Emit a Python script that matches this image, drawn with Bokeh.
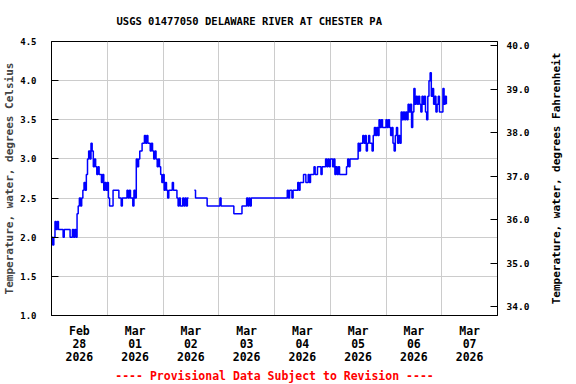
import math
import numpy as np
import pandas as pd
from bokeh.plotting import figure
from bokeh.layouts import row
from bokeh.models import Range1d, LinearAxis, FixedTicker, Label, Title, PrintfTickFormatter
from bokeh.embed import file_html
from bokeh.resources import INLINE

title_text = "USGS 01477050 DELAWARE RIVER AT CHESTER PA"
footer_text = "---- Provisional Data Subject to Revision ----"
left_label = "Temperature, water, degrees Celsius"
right_label = "Temperature, water, degrees Fahrenheit"

start_time = "2026-02-28 00:00"
sample_interval = "30min"
nan = float("nan")

# water temperature, degrees C, every 30 minutes from Feb 28 00:00
temp_c = [
    2.0, 1.9, 2.0, 2.2, 2.1, 2.2, 2.1, 2.1, 2.1, 2.1,
    2.0, 2.1, 2.1, 2.1, 2.1, 2.1, 2.0, 2.0, 2.1, 2.0,
    2.1, 2.0, 2.3, 2.4, 2.5, 2.4, 2.5, 2.6, 2.7, 2.6,
    2.8, 3.0, 3.1, 3.0, 3.2, 3.1, 2.9, 3.0, 2.9, 2.8,
    2.9, 2.8, 2.8, 2.7, 2.8, 2.6, 2.7, 2.6, 2.7, 2.5,
    2.4, 2.4, 2.4, 2.6, 2.6, 2.6, 2.6, 2.6, 2.5, 2.5,
    2.4, 2.5, 2.5, 2.5, 2.5, 2.6, 2.5, 2.6, 2.5, 2.5,
    2.4, 2.6, 2.5, 3.0, 2.9, 3.0, 3.1, 3.1, 3.2, 3.2,
    3.3, 3.2, 3.3, 3.2, 3.2, 3.1, 3.2, 3.1, 3.0, 3.1,
    3.0, 2.9, 3.0, 2.9, 2.8, 2.7, 2.8, 2.6, 2.7, 2.6,
    2.5, 2.6, 2.6, 2.6, 2.7, 2.6, 2.6, 2.6, 2.5, 2.4,
    2.5, 2.4, 2.4, 2.5, 2.4, 2.5, 2.4, 2.5, 2.5, nan,
    nan, nan, nan, 2.6, 2.5, 2.5, 2.5, 2.5, 2.5, 2.5,
    2.5, 2.5, 2.5, 2.5, 2.4, 2.4, 2.4, 2.4, 2.4, 2.4,
    2.4, 2.4, 2.4, 2.4, 2.4, 2.5, 2.4, 2.4, 2.4, 2.4,
    2.4, 2.4, 2.4, 2.4, 2.4, 2.4, 2.4, 2.3, 2.3, 2.3,
    2.3, 2.3, 2.3, 2.3, 2.4, 2.4, 2.4, 2.4, 2.5, 2.4,
    2.5, 2.4, 2.5, 2.5, 2.5, 2.5, 2.5, 2.5, 2.5, 2.5,
    2.5, 2.5, 2.5, 2.5, 2.5, 2.5, 2.5, 2.5, 2.5, 2.5,
    2.5, 2.5, 2.5, 2.5, 2.5, 2.5, 2.5, 2.5, 2.5, 2.5,
    2.5, 2.5, 2.5, 2.6, 2.5, 2.6, 2.6, 2.5, 2.6, 2.6,
    2.6, 2.6, 2.7, 2.6, 2.7, 2.7, 2.7, 2.8, 2.8, 2.7,
    2.7, 2.8, 2.7, 2.8, 2.8, 2.8, 2.9, 2.8, 2.8, 2.9,
    2.9, 2.9, 2.8, 2.9, 2.9, 2.9, 3.0, 2.9, 3.0, 2.9,
    3.0, 3.0, 2.9, 3.0, 2.8, 2.9, 2.8, 2.9, 2.8, 2.8,
    2.8, 2.8, 2.8, 2.8, 2.9, 3.0, 2.9, 3.0, 3.0, 3.0,
    3.0, 3.0, 3.0, 3.0, 3.2, 3.1, 3.2, 3.2, 3.3, 3.2,
    3.3, 3.1, 3.2, 3.3, 3.2, 3.2, 3.1, 3.3, 3.4, 3.3,
    3.4, 3.3, 3.5, 3.4, 3.5, 3.4, 3.4, 3.4, 3.5, 3.4,
    3.5, 3.4, 3.3, 3.4, 3.2, 3.1, 3.3, 3.4, 3.2, 3.3,
    3.2, 3.6, 3.5, 3.6, 3.5, 3.6, 3.5, 3.7, 3.6, 3.7,
    3.4, 3.6, 3.9, 3.7, 3.8, 3.7, 3.8, 3.7, 3.6, 3.8,
    3.7, 3.8, 3.6, 3.5, 3.8, 4.0, 4.1, 3.8, 3.9, 3.7,
    3.8, 3.6, 3.7, 3.8, 3.6, 3.6, 3.6, 3.9, 3.7, 3.8,
    3.7,
]

c_ticks = [1.0, 1.5, 2.0, 2.5, 3.0, 3.5, 4.0, 4.5]
f_ticks = [34.0, 35.0, 36.0, 37.0, 38.0, 39.0, 40.0]
day_labels = ["Feb\n28\n2026", "Mar\n01\n2026", "Mar\n02\n2026", "Mar\n03\n2026",
              "Mar\n04\n2026", "Mar\n05\n2026", "Mar\n06\n2026", "Mar\n07\n2026"]
n_days = 8

t0 = pd.Timestamp(start_time)
times = pd.date_range(t0, periods=len(temp_c), freq=sample_interval)
hours = ((times - t0) / pd.Timedelta(hours=1)).to_numpy()
vals = np.array(temp_c, dtype=float)

c_lo, c_hi = c_ticks[0], c_ticks[-1]
f_lo, f_hi = c_lo * 9 / 5 + 32, c_hi * 9 / 5 + 32

MONO = "DejaVu Sans Mono"
TOP, BOTTOM, LEFT, RIGHT = 41, 69, 43, 42
FW, FH = 446, 274
H = TOP + FH + BOTTOM
SIDE_W = 29

p = figure(frame_width=FW, frame_height=FH, output_backend="svg", toolbar_location=None,
           x_range=Range1d(0, n_days * 24), y_range=Range1d(c_lo, c_hi),
           min_border_left=LEFT, min_border_right=RIGHT, min_border_top=TOP,
           min_border_bottom=BOTTOM,
           background_fill_color="white", border_fill_color="white")
p.outline_line_color = "black"
p.outline_line_width = 1

# data segments (break at missing values)
ok = ~np.isnan(vals)
i = 0
n = len(vals)
while i < n:
    if not ok[i]:
        i += 1
        continue
    j = i
    while j < n and ok[j]:
        j += 1
    p.step(hours[i:j], vals[i:j], mode="after", line_color="#0000ff", line_width=1.5)
    i = j

# x axis: labels at noon, grid at midnight
noons = [24 * d + 12 for d in range(n_days)]
xa = p.xaxis[0]
xa.ticker = FixedTicker(ticks=noons)
xa.major_label_overrides = {t: lab for t, lab in zip(noons, day_labels)}
xa.major_tick_in = 0
xa.major_tick_out = 0
xa.minor_tick_line_color = None
xa.axis_line_color = "black"
xa.major_label_standoff = 8
xa.major_label_text_font = MONO
xa.major_label_text_font_style = "bold"
xa.major_label_text_font_size = "11.5px"
xa.major_label_text_line_height = 0.93
xa.major_label_text_color = "black"
p.xgrid.ticker = FixedTicker(ticks=[24 * d for d in range(1, n_days)])
p.xgrid.grid_line_color = "#cccccc"

# left axis (Celsius)
ya = p.yaxis[0]
ya.ticker = FixedTicker(ticks=c_ticks)
ya.formatter = PrintfTickFormatter(format="%.1f")
ya.major_tick_in = 7
ya.major_tick_out = 0
ya.minor_tick_line_color = None
ya.axis_line_color = "black"
ya.major_label_standoff = 15
ya.major_label_text_font = MONO
ya.major_label_text_font_style = "bold"
ya.major_label_text_font_size = "9px"
ya.major_label_text_color = "black"
ya.axis_label = left_label
ya.axis_label_text_font = MONO
ya.axis_label_text_font_style = "bold"
ya.axis_label_text_font_size = "11px"
ya.axis_label_standoff = 1
p.ygrid.ticker = FixedTicker(ticks=c_ticks)
p.ygrid.grid_line_color = "#cccccc"

# right axis (Fahrenheit)
p.extra_y_ranges = {"F": Range1d(f_lo, f_hi)}
ra = LinearAxis(y_range_name="F", ticker=FixedTicker(ticks=f_ticks),
                formatter=PrintfTickFormatter(format="%.1f"))
ra.major_tick_in = 7
ra.major_tick_out = 0
ra.minor_tick_line_color = None
ra.axis_line_color = "black"
ra.major_label_standoff = 9
ra.major_label_text_font = MONO
ra.major_label_text_font_style = "bold"
ra.major_label_text_font_size = "9.5px"
ra.major_label_text_color = "black"
p.add_layout(ra, "right")

# title and footer
p.add_layout(Title(text=title_text, align="left", offset=65, text_font=MONO,
                   text_font_style="bold", text_font_size="10.5px", text_color="black",
                   vertical_align="top", standoff=26), "above")
p.add_layout(Title(text=footer_text, align="center", text_font=MONO,
                   text_font_style="bold", text_font_size="11.5px", text_color="#ff0000",
                   standoff=0), "below")

# narrow side strip for the Fahrenheit axis title, reading bottom to top
side = figure(width=SIDE_W, height=H, output_backend="svg", toolbar_location=None,
              x_axis_location=None, y_axis_location=None, min_border=0,
              x_range=Range1d(0, SIDE_W), y_range=Range1d(0, H),
              background_fill_color="white", border_fill_color="white")
side.outline_line_color = None
side.grid.visible = False
side.add_layout(Label(x=17, y=FH / 2, x_units="screen", y_units="screen",
                      text=right_label, angle=math.pi / 2, text_align="center",
                      text_baseline="middle", text_font=MONO, text_font_style="bold",
                      text_font_size="11px", text_color="black"))

layout = row(p, side, spacing=0)
open("out.html", "w").write(file_html(layout, INLINE))
